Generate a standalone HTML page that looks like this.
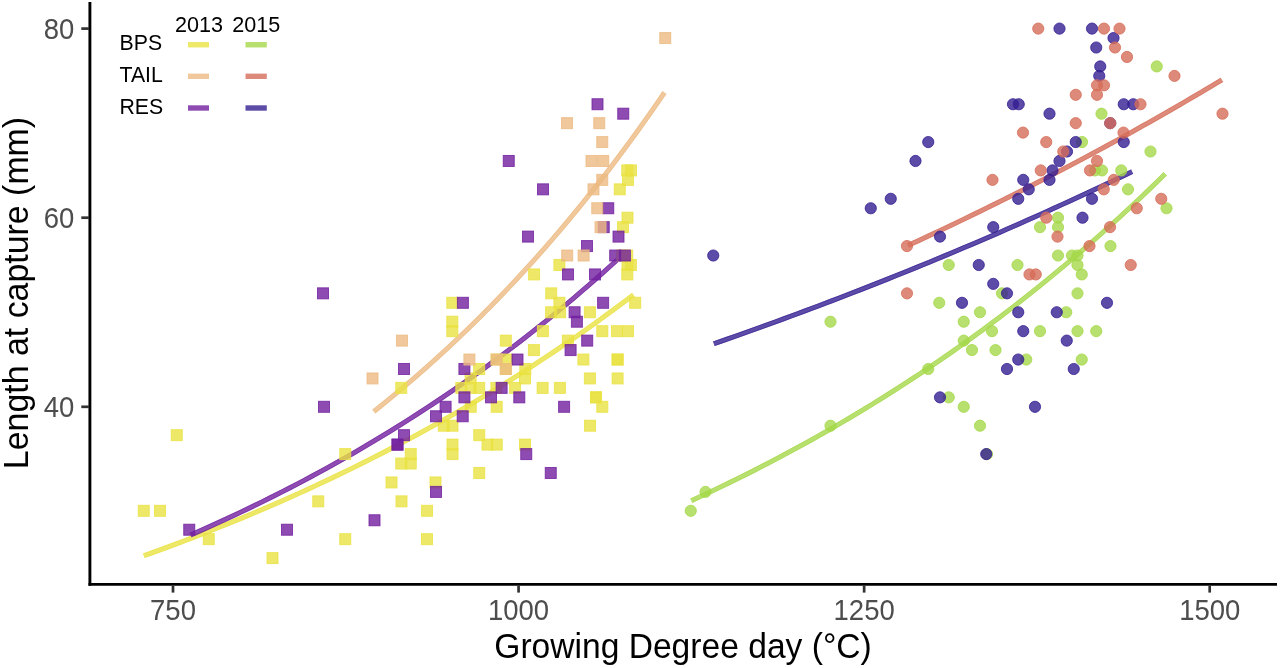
<!DOCTYPE html>
<html><head><meta charset="utf-8"><style>
html,body{margin:0;padding:0;background:#fff;width:1280px;height:668px;overflow:hidden}
svg{display:block;font-family:"Liberation Sans",sans-serif;will-change:transform}
</style></head><body>
<svg width="1280" height="668" viewBox="0 0 1280 668">
<polyline points="143.75,555.75 151.91,552.83 160.07,549.87 168.24,546.87 176.40,543.84 184.56,540.76 192.72,537.65 200.89,534.49 209.05,531.30 217.21,528.07 225.37,524.79 233.54,521.48 241.70,518.12 249.86,514.71 258.02,511.27 266.19,507.78 274.35,504.25 282.51,500.67 290.67,497.04 298.84,493.37 307.00,489.65 315.16,485.89 323.33,482.08 331.49,478.22 339.65,474.30 347.81,470.34 355.97,466.33 364.14,462.27 372.30,458.16 380.46,453.99 388.62,449.77 396.79,445.50 404.95,441.17 413.11,436.79 421.28,432.35 429.44,427.85 437.60,423.30 445.76,418.69 453.93,414.02 462.09,409.29 470.25,404.50 478.41,399.65 486.57,394.74 494.74,389.77 502.90,384.73 511.06,379.62 519.23,374.46 527.39,369.22 535.55,363.92 543.71,358.56 551.88,353.12 560.04,347.62 568.20,342.04 576.36,336.39 584.53,330.67 592.69,324.88 600.85,319.02 609.01,313.08 617.17,307.06 625.34,300.97 633.50,294.80" fill="none" stroke="#EAE242" stroke-opacity="0.8" stroke-linecap="butt" stroke-linejoin="round" stroke-width="4.9"/><polyline points="144.41,557.59 152.57,554.66 160.74,551.70 168.91,548.70 177.08,545.66 185.25,542.58 193.42,539.47 201.59,536.31 209.76,533.12 217.93,529.88 226.11,526.60 234.28,523.28 242.45,519.92 250.62,516.51 258.79,513.06 266.96,509.57 275.13,506.03 283.30,502.45 291.47,498.82 299.64,495.15 307.81,491.43 315.98,487.66 324.15,483.84 332.33,479.98 340.50,476.06 348.67,472.10 356.84,468.08 365.01,464.01 373.18,459.90 381.35,455.73 389.52,451.50 397.70,447.22 405.87,442.89 414.04,438.50 422.21,434.06 430.38,429.56 438.55,425.00 446.73,420.39 454.90,415.71 463.07,410.98 471.24,406.18 479.41,401.33 487.59,396.41 495.76,391.43 503.93,386.38 512.10,381.28 520.27,376.10 528.44,370.86 536.62,365.56 544.79,360.18 552.96,354.74 561.13,349.23 569.30,343.65 577.48,337.99 585.65,332.27 593.82,326.47 601.99,320.60 610.16,314.65 618.34,308.63 626.51,302.53 634.68,296.36" fill="none" stroke="#EAE242" stroke-opacity="0.5" stroke-linecap="butt" stroke-linejoin="round" stroke-width="1.0"/><polyline points="143.09,553.91 151.25,550.99 159.41,548.04 167.56,545.04 175.72,542.01 183.87,538.94 192.03,535.83 200.18,532.68 208.34,529.49 216.49,526.26 224.64,522.98 232.80,519.67 240.95,516.31 249.11,512.92 257.26,509.47 265.42,505.99 273.57,502.46 281.73,498.88 289.88,495.26 298.03,491.60 306.19,487.88 314.34,484.12 322.50,480.31 330.65,476.45 338.80,472.55 346.96,468.59 355.11,464.59 363.26,460.53 371.42,456.42 379.57,452.26 387.73,448.04 395.88,443.77 404.03,439.45 412.19,435.07 420.34,430.64 428.49,426.15 436.65,421.60 444.80,416.99 452.95,412.33 461.11,407.61 469.26,402.82 477.41,397.98 485.56,393.07 493.72,388.10 501.87,383.07 510.02,377.97 518.18,372.81 526.33,367.59 534.48,362.29 542.64,356.93 550.79,351.50 558.94,346.00 567.10,340.43 575.25,334.79 583.40,329.08 591.55,323.30 599.71,317.44 607.86,311.50 616.01,305.50 624.17,299.41 632.32,293.24" fill="none" stroke="#EAE242" stroke-opacity="0.5" stroke-linecap="butt" stroke-linejoin="round" stroke-width="1.0"/>
<polyline points="373.70,411.60 378.55,407.74 383.39,403.83 388.24,399.89 393.09,395.90 397.93,391.88 402.78,387.81 407.63,383.70 412.47,379.55 417.32,375.35 422.17,371.11 427.01,366.83 431.86,362.50 436.71,358.13 441.55,353.71 446.40,349.25 451.25,344.74 456.09,340.19 460.94,335.58 465.79,330.93 470.63,326.24 475.48,321.49 480.33,316.69 485.17,311.85 490.02,306.95 494.87,302.00 499.71,297.01 504.56,291.96 509.41,286.86 514.25,281.70 519.10,276.49 523.95,271.23 528.79,265.91 533.64,260.54 538.49,255.12 543.33,249.63 548.18,244.09 553.03,238.50 557.87,232.84 562.72,227.13 567.57,221.36 572.41,215.52 577.26,209.63 582.11,203.68 586.95,197.66 591.80,191.59 596.65,185.44 601.49,179.24 606.34,172.97 611.19,166.64 616.03,160.24 620.88,153.78 625.73,147.25 630.57,140.65 635.42,133.98 640.27,127.24 645.11,120.44 649.96,113.56 654.81,106.61 659.65,99.59 664.50,92.50" fill="none" stroke="#ECBA82" stroke-opacity="0.8" stroke-linecap="butt" stroke-linejoin="round" stroke-width="4.9"/><polyline points="374.92,413.12 379.77,409.26 384.62,405.35 389.47,401.40 394.33,397.41 399.18,393.37 404.04,389.30 408.89,385.18 413.75,381.02 418.60,376.82 423.45,372.58 428.31,368.29 433.16,363.95 438.02,359.58 442.87,355.15 447.72,350.68 452.58,346.17 457.43,341.60 462.29,337.00 467.14,332.34 471.99,327.63 476.85,322.88 481.70,318.08 486.56,313.22 491.41,308.32 496.26,303.37 501.12,298.36 505.97,293.30 510.82,288.19 515.68,283.03 520.53,277.82 525.38,272.55 530.24,267.22 535.09,261.85 539.94,256.41 544.80,250.92 549.65,245.37 554.50,239.77 559.36,234.11 564.21,228.39 569.06,222.61 573.92,216.77 578.77,210.87 583.62,204.91 588.47,198.88 593.33,192.80 598.18,186.65 603.03,180.44 607.89,174.16 612.74,167.82 617.59,161.42 622.44,154.94 627.30,148.40 632.15,141.80 637.00,135.12 641.85,128.38 646.70,121.56 651.56,114.68 656.41,107.72 661.26,100.70 666.11,93.60" fill="none" stroke="#ECBA82" stroke-opacity="0.5" stroke-linecap="butt" stroke-linejoin="round" stroke-width="1.0"/><polyline points="372.48,410.08 377.33,406.21 382.17,402.32 387.01,398.38 391.84,394.40 396.68,390.38 401.52,386.32 406.36,382.22 411.20,378.07 416.04,373.88 420.88,369.65 425.72,365.37 430.56,361.05 435.40,356.69 440.24,352.28 445.08,347.82 449.91,343.32 454.75,338.77 459.59,334.17 464.43,329.53 469.27,324.84 474.11,320.10 478.95,315.31 483.79,310.47 488.63,305.58 493.47,300.64 498.31,295.65 503.15,290.61 507.99,285.52 512.83,280.37 517.67,275.17 522.51,269.91 527.35,264.60 532.19,259.24 537.03,253.82 541.87,248.35 546.71,242.81 551.55,237.22 556.39,231.58 561.23,225.87 566.07,220.11 570.91,214.28 575.75,208.40 580.59,202.45 585.43,196.44 590.27,190.37 595.11,184.24 599.95,178.04 604.79,171.78 609.64,165.46 614.48,159.07 619.32,152.61 624.16,146.09 629.00,139.50 633.84,132.84 638.68,126.11 643.52,119.31 648.36,112.44 653.20,105.50 658.05,98.49 662.89,91.40" fill="none" stroke="#ECBA82" stroke-opacity="0.5" stroke-linecap="butt" stroke-linejoin="round" stroke-width="1.0"/>
<polyline points="190.50,535.00 197.61,531.89 204.72,528.74 211.83,525.55 218.93,522.32 226.04,519.06 233.15,515.75 240.26,512.40 247.37,509.00 254.48,505.57 261.58,502.09 268.69,498.57 275.80,495.01 282.91,491.40 290.02,487.75 297.12,484.05 304.23,480.31 311.34,476.51 318.45,472.68 325.56,468.79 332.67,464.86 339.77,460.87 346.88,456.84 353.99,452.76 361.10,448.62 368.21,444.44 375.32,440.20 382.42,435.91 389.53,431.57 396.64,427.17 403.75,422.72 410.86,418.21 417.97,413.64 425.08,409.02 432.18,404.35 439.29,399.61 446.40,394.81 453.51,389.96 460.62,385.04 467.73,380.07 474.83,375.03 481.94,369.93 489.05,364.76 496.16,359.54 503.27,354.24 510.38,348.88 517.48,343.46 524.59,337.96 531.70,332.40 538.81,326.77 545.92,321.07 553.02,315.29 560.13,309.45 567.24,303.53 574.35,297.54 581.46,291.48 588.57,285.34 595.68,279.12 602.78,272.82 609.89,266.45 617.00,260.00" fill="none" stroke="#721F9F" stroke-opacity="0.8" stroke-linecap="butt" stroke-linejoin="round" stroke-width="4.9"/><polyline points="191.28,536.79 198.39,533.67 205.51,530.52 212.63,527.33 219.74,524.10 226.86,520.82 233.98,517.51 241.09,514.16 248.21,510.76 255.33,507.32 262.44,503.84 269.56,500.32 276.68,496.75 283.80,493.14 290.91,489.48 298.03,485.78 305.15,482.03 312.26,478.23 319.38,474.39 326.50,470.50 333.62,466.56 340.73,462.57 347.85,458.53 354.97,454.44 362.08,450.30 369.20,446.11 376.32,441.87 383.44,437.58 390.55,433.23 397.67,428.82 404.79,424.37 411.91,419.85 419.02,415.28 426.14,410.66 433.26,405.97 440.38,401.23 447.50,396.43 454.61,391.57 461.73,386.64 468.85,381.66 475.97,376.62 483.08,371.51 490.20,366.34 497.32,361.10 504.44,355.80 511.55,350.44 518.67,345.00 525.79,339.50 532.91,333.93 540.02,328.29 547.14,322.58 554.26,316.80 561.38,310.95 568.49,305.03 575.61,299.03 582.73,292.96 589.85,286.81 596.96,280.58 604.08,274.28 611.20,267.90 618.31,261.44" fill="none" stroke="#721F9F" stroke-opacity="0.5" stroke-linecap="butt" stroke-linejoin="round" stroke-width="1.0"/><polyline points="189.72,533.21 196.82,530.10 203.92,526.96 211.02,523.77 218.12,520.55 225.22,517.29 232.32,513.98 239.42,510.63 246.52,507.25 253.62,503.82 260.72,500.34 267.82,496.83 274.92,493.27 282.02,489.66 289.12,486.02 296.22,482.32 303.32,478.58 310.42,474.80 317.52,470.96 324.62,467.08 331.72,463.15 338.82,459.17 345.92,455.15 353.02,451.07 360.12,446.94 367.21,442.76 374.31,438.53 381.41,434.24 388.51,429.90 395.61,425.51 402.71,421.07 409.81,416.56 416.91,412.01 424.01,407.39 431.11,402.72 438.21,397.99 445.30,393.20 452.40,388.35 459.50,383.44 466.60,378.47 473.70,373.44 480.80,368.35 487.90,363.19 495.00,357.97 502.10,352.68 509.20,347.33 516.30,341.91 523.39,336.42 530.49,330.87 537.59,325.24 544.69,319.55 551.79,313.78 558.89,307.95 565.99,302.04 573.09,296.05 580.19,290.00 587.29,283.86 594.39,277.66 601.49,271.37 608.59,265.00 615.69,258.56" fill="none" stroke="#721F9F" stroke-opacity="0.5" stroke-linecap="butt" stroke-linejoin="round" stroke-width="1.0"/>
<polyline points="691.25,500.75 699.15,497.10 707.05,493.40 714.95,489.66 722.85,485.86 730.75,482.02 738.66,478.13 746.56,474.19 754.46,470.20 762.36,466.15 770.26,462.06 778.16,457.91 786.06,453.71 793.96,449.45 801.86,445.14 809.76,440.78 817.66,436.36 825.56,431.88 833.47,427.34 841.37,422.75 849.27,418.10 857.17,413.38 865.07,408.61 872.97,403.78 880.87,398.88 888.77,393.92 896.67,388.90 904.57,383.81 912.47,378.66 920.37,373.44 928.27,368.15 936.18,362.80 944.08,357.38 951.98,351.88 959.88,346.32 967.78,340.69 975.68,334.98 983.58,329.20 991.48,323.34 999.38,317.42 1007.28,311.41 1015.18,305.33 1023.09,299.17 1030.99,292.93 1038.89,286.61 1046.79,280.20 1054.69,273.72 1062.59,267.15 1070.49,260.50 1078.39,253.77 1086.29,246.94 1094.19,240.03 1102.09,233.03 1109.99,225.94 1117.89,218.76 1125.80,211.49 1133.70,204.12 1141.60,196.66 1149.50,189.11 1157.40,181.45 1165.30,173.70" fill="none" stroke="#A5D84A" stroke-opacity="0.8" stroke-linecap="butt" stroke-linejoin="round" stroke-width="4.9"/><polyline points="692.07,502.52 699.97,498.87 707.88,495.17 715.79,491.42 723.70,487.62 731.61,483.77 739.52,479.88 747.43,475.93 755.34,471.93 763.25,467.89 771.16,463.79 779.07,459.63 786.98,455.43 794.89,451.17 802.80,446.85 810.71,442.48 818.62,438.06 826.53,433.57 834.44,429.03 842.35,424.43 850.26,419.77 858.17,415.06 866.08,410.28 873.99,405.44 881.90,400.53 889.81,395.57 897.72,390.54 905.63,385.45 913.54,380.29 921.45,375.06 929.36,369.77 937.27,364.41 945.18,358.98 953.10,353.48 961.01,347.91 968.92,342.27 976.83,336.56 984.74,330.77 992.65,324.91 1000.56,318.97 1008.47,312.96 1016.38,306.87 1024.29,300.70 1032.20,294.45 1040.11,288.12 1048.02,281.72 1055.93,275.22 1063.84,268.65 1071.75,261.99 1079.66,255.25 1087.57,248.41 1095.48,241.50 1103.39,234.49 1111.30,227.39 1119.21,220.20 1127.12,212.92 1135.03,205.55 1142.94,198.08 1150.85,190.51 1158.76,182.85 1166.67,175.09" fill="none" stroke="#A5D84A" stroke-opacity="0.5" stroke-linecap="butt" stroke-linejoin="round" stroke-width="1.0"/><polyline points="690.43,498.98 698.33,495.33 706.22,491.64 714.11,487.90 722.00,484.11 729.90,480.27 737.79,476.38 745.68,472.44 753.57,468.46 761.46,464.42 769.36,460.33 777.25,456.18 785.14,451.99 793.03,447.74 800.92,443.43 808.81,439.07 816.71,434.66 824.60,430.18 832.49,425.65 840.38,421.07 848.27,416.42 856.16,411.71 864.06,406.94 871.95,402.12 879.84,397.23 887.73,392.27 895.62,387.26 903.51,382.17 911.40,377.03 919.29,371.81 927.19,366.53 935.08,361.19 942.97,355.77 950.86,350.29 958.75,344.73 966.64,339.10 974.53,333.40 982.42,327.63 990.32,321.78 998.21,315.86 1006.10,309.86 1013.99,303.79 1021.88,297.63 1029.77,291.40 1037.66,285.09 1045.56,278.69 1053.45,272.22 1061.34,265.66 1069.23,259.01 1077.12,252.29 1085.01,245.47 1092.90,238.57 1100.80,231.58 1108.69,224.50 1116.58,217.32 1124.47,210.06 1132.36,202.70 1140.25,195.25 1148.15,187.70 1156.04,180.06 1163.93,172.31" fill="none" stroke="#A5D84A" stroke-opacity="0.5" stroke-linecap="butt" stroke-linejoin="round" stroke-width="1.0"/>
<polyline points="908.00,245.50 913.23,243.09 918.47,240.66 923.70,238.23 928.93,235.78 934.17,233.32 939.40,230.85 944.63,228.38 949.87,225.89 955.10,223.38 960.33,220.87 965.57,218.35 970.80,215.81 976.03,213.27 981.27,210.71 986.50,208.14 991.73,205.56 996.97,202.97 1002.20,200.36 1007.43,197.75 1012.67,195.12 1017.90,192.48 1023.13,189.83 1028.37,187.17 1033.60,184.49 1038.83,181.80 1044.07,179.11 1049.30,176.39 1054.53,173.67 1059.77,170.94 1065.00,168.19 1070.23,165.43 1075.47,162.66 1080.70,159.87 1085.93,157.08 1091.17,154.27 1096.40,151.45 1101.63,148.61 1106.87,145.76 1112.10,142.90 1117.33,140.03 1122.57,137.15 1127.80,134.25 1133.03,131.34 1138.27,128.41 1143.50,125.47 1148.73,122.52 1153.97,119.56 1159.20,116.58 1164.43,113.59 1169.67,110.59 1174.90,107.57 1180.13,104.54 1185.37,101.50 1190.60,98.44 1195.83,95.37 1201.07,92.28 1206.30,89.18 1211.53,86.07 1216.77,82.94 1222.00,79.80" fill="none" stroke="#D66D59" stroke-opacity="0.8" stroke-linecap="butt" stroke-linejoin="round" stroke-width="4.9"/><polyline points="908.82,247.27 914.05,244.86 919.29,242.43 924.52,239.99 929.76,237.55 935.00,235.09 940.23,232.62 945.47,230.14 950.71,227.65 955.94,225.14 961.18,222.63 966.42,220.10 971.65,217.57 976.89,215.02 982.12,212.46 987.36,209.89 992.60,207.31 997.83,204.71 1003.07,202.11 1008.31,199.49 1013.54,196.86 1018.78,194.22 1024.02,191.57 1029.25,188.90 1034.49,186.23 1039.73,183.54 1044.96,180.84 1050.20,178.13 1055.43,175.40 1060.67,172.66 1065.91,169.92 1071.14,167.15 1076.38,164.38 1081.62,161.59 1086.85,158.80 1092.09,155.98 1097.33,153.16 1102.56,150.32 1107.80,147.48 1113.04,144.61 1118.27,141.74 1123.51,138.85 1128.75,135.95 1133.98,133.04 1139.22,130.11 1144.46,127.17 1149.69,124.22 1154.93,121.26 1160.17,118.28 1165.40,115.28 1170.64,112.28 1175.88,109.26 1181.11,106.23 1186.35,103.18 1191.59,100.12 1196.82,97.05 1202.06,93.96 1207.30,90.86 1212.53,87.74 1217.77,84.61 1223.00,81.47" fill="none" stroke="#D66D59" stroke-opacity="0.5" stroke-linecap="butt" stroke-linejoin="round" stroke-width="1.0"/><polyline points="907.18,243.73 912.42,241.32 917.65,238.89 922.88,236.46 928.11,234.01 933.34,231.56 938.57,229.09 943.80,226.61 949.03,224.13 954.26,221.63 959.49,219.11 964.72,216.59 969.95,214.06 975.18,211.51 980.41,208.96 985.64,206.39 990.87,203.81 996.10,201.22 1001.33,198.62 1006.56,196.00 1011.79,193.38 1017.02,190.74 1022.25,188.09 1027.48,185.43 1032.71,182.76 1037.94,180.07 1043.17,177.37 1048.40,174.66 1053.63,171.94 1058.86,169.21 1064.09,166.46 1069.32,163.71 1074.55,160.94 1079.78,158.15 1085.01,155.36 1090.24,152.55 1095.47,149.73 1100.70,146.90 1105.93,144.05 1111.16,141.19 1116.39,138.32 1121.62,135.44 1126.85,132.54 1132.08,129.63 1137.31,126.71 1142.54,123.77 1147.77,120.83 1153.00,117.86 1158.23,114.89 1163.46,111.90 1168.69,108.90 1173.92,105.88 1179.15,102.85 1184.38,99.81 1189.61,96.75 1194.84,93.68 1200.07,90.60 1205.30,87.50 1210.53,84.39 1215.76,81.27 1221.00,78.13" fill="none" stroke="#D66D59" stroke-opacity="0.5" stroke-linecap="butt" stroke-linejoin="round" stroke-width="1.0"/>
<polyline points="713.75,343.80 720.72,341.37 727.70,338.93 734.67,336.47 741.65,334.00 748.62,331.52 755.59,329.02 762.57,326.51 769.54,323.98 776.52,321.44 783.49,318.89 790.47,316.32 797.44,313.74 804.41,311.15 811.39,308.54 818.36,305.92 825.34,303.28 832.31,300.62 839.28,297.96 846.26,295.27 853.23,292.58 860.21,289.87 867.18,287.14 874.16,284.40 881.13,281.64 888.10,278.87 895.08,276.08 902.05,273.28 909.03,270.46 916.00,267.63 922.98,264.78 929.95,261.91 936.92,259.03 943.90,256.13 950.87,253.22 957.85,250.29 964.82,247.35 971.79,244.39 978.77,241.41 985.74,238.42 992.72,235.41 999.69,232.38 1006.66,229.34 1013.64,226.28 1020.61,223.20 1027.59,220.11 1034.56,217.00 1041.54,213.87 1048.51,210.72 1055.48,207.56 1062.46,204.38 1069.43,201.18 1076.41,197.97 1083.38,194.73 1090.36,191.48 1097.33,188.21 1104.30,184.93 1111.28,181.62 1118.25,178.30 1125.23,174.96 1132.20,171.60" fill="none" stroke="#351E92" stroke-opacity="0.8" stroke-linecap="butt" stroke-linejoin="round" stroke-width="4.9"/><polyline points="714.39,345.64 721.37,343.21 728.34,340.77 735.32,338.31 742.30,335.84 749.28,333.35 756.25,330.85 763.23,328.34 770.21,325.82 777.19,323.28 784.16,320.72 791.14,318.15 798.12,315.57 805.10,312.98 812.07,310.36 819.05,307.74 826.03,305.10 833.01,302.45 839.98,299.78 846.96,297.09 853.94,294.40 860.92,291.68 867.89,288.95 874.87,286.21 881.85,283.45 888.83,280.68 895.80,277.89 902.78,275.09 909.76,272.27 916.74,269.43 923.71,266.58 930.69,263.72 937.67,260.83 944.65,257.93 951.62,255.02 958.60,252.09 965.58,249.14 972.56,246.18 979.54,243.20 986.51,240.21 993.49,237.20 1000.47,234.17 1007.45,231.12 1014.42,228.06 1021.40,224.98 1028.38,221.89 1035.36,218.78 1042.34,215.65 1049.31,212.50 1056.29,209.33 1063.27,206.15 1070.25,202.95 1077.22,199.74 1084.20,196.50 1091.18,193.25 1098.16,189.98 1105.14,186.69 1112.11,183.38 1119.09,180.06 1126.07,176.72 1133.05,173.36" fill="none" stroke="#351E92" stroke-opacity="0.5" stroke-linecap="butt" stroke-linejoin="round" stroke-width="1.0"/><polyline points="713.11,341.96 720.08,339.53 727.05,337.09 734.02,334.63 740.99,332.16 747.97,329.68 754.94,327.18 761.91,324.67 768.88,322.15 775.85,319.61 782.82,317.06 789.79,314.50 796.76,311.92 803.73,309.32 810.70,306.71 817.67,304.09 824.65,301.45 831.62,298.80 838.59,296.14 845.56,293.45 852.53,290.76 859.50,288.05 866.47,285.32 873.44,282.58 880.41,279.83 887.38,277.06 894.35,274.27 901.32,271.47 908.29,268.65 915.27,265.82 922.24,262.97 929.21,260.11 936.18,257.23 943.15,254.33 950.12,251.42 957.09,248.50 964.06,245.55 971.03,242.59 978.00,239.62 984.97,236.63 991.94,233.62 998.91,230.59 1005.88,227.55 1012.85,224.49 1019.82,221.42 1026.79,218.32 1033.77,215.22 1040.74,212.09 1047.71,208.95 1054.68,205.78 1061.65,202.61 1068.62,199.41 1075.59,196.20 1082.56,192.97 1089.53,189.72 1096.50,186.45 1103.47,183.17 1110.44,179.86 1117.41,176.54 1124.38,173.20 1131.35,169.84" fill="none" stroke="#351E92" stroke-opacity="0.5" stroke-linecap="butt" stroke-linejoin="round" stroke-width="1.0"/>
<g fill="#EAE242" fill-opacity="0.8" stroke="#EAE242" stroke-opacity="0.8" stroke-width="1.0"><rect x="171.25" y="429.67" width="11.00" height="11.00"/><rect x="138.25" y="505.31" width="11.00" height="11.00"/><rect x="154.50" y="505.31" width="11.00" height="11.00"/><rect x="203.25" y="533.67" width="11.00" height="11.00"/><rect x="267.00" y="552.58" width="11.00" height="11.00"/><rect x="312.75" y="495.85" width="11.00" height="11.00"/><rect x="339.75" y="448.58" width="11.00" height="11.00"/><rect x="339.75" y="533.67" width="11.00" height="11.00"/><rect x="386.00" y="476.94" width="11.00" height="11.00"/><rect x="396.00" y="495.85" width="11.00" height="11.00"/><rect x="395.75" y="458.03" width="11.00" height="11.00"/><rect x="405.25" y="448.58" width="11.00" height="11.00"/><rect x="405.25" y="458.03" width="11.00" height="11.00"/><rect x="395.75" y="382.39" width="11.00" height="11.00"/><rect x="421.50" y="505.31" width="11.00" height="11.00"/><rect x="421.50" y="533.67" width="11.00" height="11.00"/><rect x="430.00" y="476.94" width="11.00" height="11.00"/><rect x="473.75" y="467.49" width="11.00" height="11.00"/><rect x="447.00" y="439.12" width="11.00" height="11.00"/><rect x="447.00" y="448.58" width="11.00" height="11.00"/><rect x="438.25" y="420.21" width="11.00" height="11.00"/><rect x="447.00" y="420.21" width="11.00" height="11.00"/><rect x="473.75" y="429.67" width="11.00" height="11.00"/><rect x="482.00" y="439.12" width="11.00" height="11.00"/><rect x="491.25" y="439.12" width="11.00" height="11.00"/><rect x="519.50" y="439.12" width="11.00" height="11.00"/><rect x="584.50" y="420.21" width="11.00" height="11.00"/><rect x="446.80" y="297.30" width="11.00" height="11.00"/><rect x="446.80" y="316.21" width="11.00" height="11.00"/><rect x="446.80" y="325.66" width="11.00" height="11.00"/><rect x="455.80" y="382.39" width="11.00" height="11.00"/><rect x="465.25" y="382.39" width="11.00" height="11.00"/><rect x="473.70" y="382.39" width="11.00" height="11.00"/><rect x="490.90" y="382.39" width="11.00" height="11.00"/><rect x="509.60" y="382.39" width="11.00" height="11.00"/><rect x="537.10" y="382.39" width="11.00" height="11.00"/><rect x="554.40" y="382.39" width="11.00" height="11.00"/><rect x="465.10" y="372.94" width="11.00" height="11.00"/><rect x="519.50" y="372.94" width="11.00" height="11.00"/><rect x="473.70" y="363.48" width="11.00" height="11.00"/><rect x="519.80" y="363.48" width="11.00" height="11.00"/><rect x="500.30" y="363.48" width="11.00" height="11.00"/><rect x="491.10" y="354.03" width="11.00" height="11.00"/><rect x="501.30" y="354.03" width="11.00" height="11.00"/><rect x="500.30" y="335.12" width="11.00" height="11.00"/><rect x="528.40" y="344.57" width="11.00" height="11.00"/><rect x="465.25" y="401.30" width="11.00" height="11.00"/><rect x="491.20" y="401.30" width="11.00" height="11.00"/><rect x="528.60" y="268.93" width="11.00" height="11.00"/><rect x="553.90" y="259.48" width="11.00" height="11.00"/><rect x="545.75" y="287.84" width="11.00" height="11.00"/><rect x="553.90" y="297.30" width="11.00" height="11.00"/><rect x="545.60" y="306.75" width="11.00" height="11.00"/><rect x="554.60" y="306.75" width="11.00" height="11.00"/><rect x="584.40" y="306.75" width="11.00" height="11.00"/><rect x="537.40" y="325.66" width="11.00" height="11.00"/><rect x="596.80" y="325.66" width="11.00" height="11.00"/><rect x="611.50" y="325.66" width="11.00" height="11.00"/><rect x="622.50" y="325.66" width="11.00" height="11.00"/><rect x="562.40" y="335.12" width="11.00" height="11.00"/><rect x="577.90" y="354.03" width="11.00" height="11.00"/><rect x="612.10" y="354.03" width="11.00" height="11.00"/><rect x="612.10" y="354.03" width="11.00" height="11.00"/><rect x="584.40" y="372.94" width="11.00" height="11.00"/><rect x="612.10" y="372.94" width="11.00" height="11.00"/><rect x="590.50" y="391.85" width="11.00" height="11.00"/><rect x="590.50" y="391.85" width="11.00" height="11.00"/><rect x="596.80" y="401.30" width="11.00" height="11.00"/><rect x="616.40" y="250.02" width="11.00" height="11.00"/><rect x="621.70" y="250.02" width="11.00" height="11.00"/><rect x="622.00" y="259.48" width="11.00" height="11.00"/><rect x="625.40" y="259.48" width="11.00" height="11.00"/><rect x="621.80" y="268.93" width="11.00" height="11.00"/><rect x="629.70" y="297.30" width="11.00" height="11.00"/><rect x="621.75" y="164.92" width="11.00" height="11.00"/><rect x="625.50" y="164.92" width="11.00" height="11.00"/><rect x="622.50" y="174.38" width="11.00" height="11.00"/><rect x="614.25" y="183.84" width="11.00" height="11.00"/><rect x="622.00" y="212.20" width="11.00" height="11.00"/><rect x="617.50" y="221.66" width="11.00" height="11.00"/></g>
<g fill="#721F9F" fill-opacity="0.8" stroke="#721F9F" stroke-opacity="0.8" stroke-width="1.0"><rect x="183.75" y="524.22" width="11.00" height="11.00"/><rect x="281.50" y="524.22" width="11.00" height="11.00"/><rect x="369.00" y="514.76" width="11.00" height="11.00"/><rect x="392.00" y="439.12" width="11.00" height="11.00"/><rect x="392.00" y="439.12" width="11.00" height="11.00"/><rect x="398.50" y="429.67" width="11.00" height="11.00"/><rect x="430.50" y="486.40" width="11.00" height="11.00"/><rect x="520.75" y="448.58" width="11.00" height="11.00"/><rect x="545.25" y="467.49" width="11.00" height="11.00"/><rect x="318.50" y="401.30" width="11.00" height="11.00"/><rect x="398.50" y="363.48" width="11.00" height="11.00"/><rect x="317.50" y="287.84" width="11.00" height="11.00"/><rect x="458.90" y="363.48" width="11.00" height="11.00"/><rect x="440.10" y="401.30" width="11.00" height="11.00"/><rect x="430.50" y="410.76" width="11.00" height="11.00"/><rect x="457.20" y="410.76" width="11.00" height="11.00"/><rect x="458.90" y="391.85" width="11.00" height="11.00"/><rect x="485.50" y="391.85" width="11.00" height="11.00"/><rect x="513.80" y="391.85" width="11.00" height="11.00"/><rect x="496.10" y="382.39" width="11.00" height="11.00"/><rect x="512.00" y="354.03" width="11.00" height="11.00"/><rect x="558.60" y="401.30" width="11.00" height="11.00"/><rect x="565.10" y="344.57" width="11.00" height="11.00"/><rect x="592.00" y="98.74" width="11.00" height="11.00"/><rect x="617.75" y="108.19" width="11.00" height="11.00"/><rect x="503.25" y="155.47" width="11.00" height="11.00"/><rect x="537.50" y="183.84" width="11.00" height="11.00"/><rect x="602.75" y="202.75" width="11.00" height="11.00"/><rect x="598.25" y="221.66" width="11.00" height="11.00"/><rect x="613.00" y="231.11" width="11.00" height="11.00"/><rect x="522.50" y="231.11" width="11.00" height="11.00"/><rect x="581.50" y="240.56" width="11.00" height="11.00"/><rect x="609.70" y="250.02" width="11.00" height="11.00"/><rect x="619.40" y="250.02" width="11.00" height="11.00"/><rect x="562.50" y="268.93" width="11.00" height="11.00"/><rect x="589.50" y="268.93" width="11.00" height="11.00"/><rect x="597.60" y="297.30" width="11.00" height="11.00"/><rect x="569.10" y="306.75" width="11.00" height="11.00"/><rect x="571.40" y="316.21" width="11.00" height="11.00"/><rect x="581.70" y="335.12" width="11.00" height="11.00"/><rect x="457.40" y="297.30" width="11.00" height="11.00"/></g>
<g fill="#ECBA82" fill-opacity="0.8" stroke="#ECBA82" stroke-opacity="0.8" stroke-width="1.0"><rect x="367.00" y="372.94" width="11.00" height="11.00"/><rect x="396.50" y="335.12" width="11.00" height="11.00"/><rect x="463.90" y="354.03" width="11.00" height="11.00"/><rect x="491.10" y="354.03" width="11.00" height="11.00"/><rect x="500.30" y="363.48" width="11.00" height="11.00"/><rect x="561.50" y="117.65" width="11.00" height="11.00"/><rect x="593.75" y="117.65" width="11.00" height="11.00"/><rect x="596.75" y="136.56" width="11.00" height="11.00"/><rect x="586.00" y="155.47" width="11.00" height="11.00"/><rect x="597.75" y="155.47" width="11.00" height="11.00"/><rect x="596.75" y="174.38" width="11.00" height="11.00"/><rect x="588.00" y="183.84" width="11.00" height="11.00"/><rect x="591.75" y="202.75" width="11.00" height="11.00"/><rect x="595.00" y="221.66" width="11.00" height="11.00"/><rect x="561.70" y="250.02" width="11.00" height="11.00"/><rect x="578.10" y="250.02" width="11.00" height="11.00"/><rect x="659.75" y="32.55" width="11.00" height="11.00"/></g>
<g fill="#A5D84A" fill-opacity="0.8" stroke="#A5D84A" stroke-opacity="0.8" stroke-width="1.0"><circle cx="987.00" cy="454.08" r="5.60"/><circle cx="690.75" cy="510.81" r="5.60"/><circle cx="705.50" cy="491.90" r="5.60"/><circle cx="830.50" cy="425.71" r="5.60"/><circle cx="928.25" cy="368.98" r="5.60"/><circle cx="948.75" cy="397.35" r="5.60"/><circle cx="963.75" cy="406.80" r="5.60"/><circle cx="980.00" cy="425.71" r="5.60"/><circle cx="948.75" cy="264.98" r="5.60"/><circle cx="830.50" cy="321.71" r="5.60"/><circle cx="939.25" cy="302.80" r="5.60"/><circle cx="980.00" cy="312.25" r="5.60"/><circle cx="963.75" cy="321.71" r="5.60"/><circle cx="992.00" cy="331.16" r="5.60"/><circle cx="963.75" cy="340.62" r="5.60"/><circle cx="972.00" cy="350.07" r="5.60"/><circle cx="995.50" cy="350.07" r="5.60"/><circle cx="1166.50" cy="208.25" r="5.60"/><circle cx="1058.00" cy="217.70" r="5.60"/><circle cx="1040.00" cy="227.16" r="5.60"/><circle cx="1058.00" cy="227.16" r="5.60"/><circle cx="1110.50" cy="246.06" r="5.60"/><circle cx="1058.00" cy="255.52" r="5.60"/><circle cx="1072.00" cy="255.52" r="5.60"/><circle cx="1077.50" cy="255.52" r="5.60"/><circle cx="1077.50" cy="264.98" r="5.60"/><circle cx="1081.75" cy="274.43" r="5.60"/><circle cx="1017.50" cy="264.98" r="5.60"/><circle cx="1002.00" cy="293.34" r="5.60"/><circle cx="1077.50" cy="293.34" r="5.60"/><circle cx="1066.25" cy="312.25" r="5.60"/><circle cx="1040.00" cy="331.16" r="5.60"/><circle cx="1077.50" cy="331.16" r="5.60"/><circle cx="1096.25" cy="331.16" r="5.60"/><circle cx="1026.25" cy="359.53" r="5.60"/><circle cx="1081.75" cy="359.53" r="5.60"/><circle cx="1156.75" cy="66.42" r="5.60"/><circle cx="1101.50" cy="113.69" r="5.60"/><circle cx="1082.00" cy="142.06" r="5.60"/><circle cx="1150.50" cy="151.52" r="5.60"/><circle cx="1095.00" cy="170.42" r="5.60"/><circle cx="1102.00" cy="170.42" r="5.60"/><circle cx="1121.25" cy="170.42" r="5.60"/><circle cx="1128.00" cy="189.34" r="5.60"/></g>
<g fill="#351E92" fill-opacity="0.8" stroke="#351E92" stroke-opacity="0.8" stroke-width="1.0"><circle cx="713.25" cy="255.52" r="5.60"/><circle cx="870.75" cy="208.25" r="5.60"/><circle cx="890.75" cy="198.79" r="5.60"/><circle cx="940.00" cy="236.61" r="5.60"/><circle cx="993.25" cy="227.16" r="5.60"/><circle cx="978.75" cy="264.98" r="5.60"/><circle cx="993.25" cy="283.88" r="5.60"/><circle cx="962.00" cy="302.80" r="5.60"/><circle cx="940.00" cy="397.35" r="5.60"/><circle cx="986.25" cy="454.08" r="5.60"/><circle cx="1018.25" cy="198.79" r="5.60"/><circle cx="1092.00" cy="198.79" r="5.60"/><circle cx="1082.50" cy="217.70" r="5.60"/><circle cx="1007.00" cy="293.34" r="5.60"/><circle cx="1107.00" cy="302.80" r="5.60"/><circle cx="1018.25" cy="312.25" r="5.60"/><circle cx="1056.75" cy="312.25" r="5.60"/><circle cx="1023.25" cy="331.16" r="5.60"/><circle cx="1066.75" cy="340.62" r="5.60"/><circle cx="1018.25" cy="359.53" r="5.60"/><circle cx="1007.00" cy="368.98" r="5.60"/><circle cx="1073.75" cy="368.98" r="5.60"/><circle cx="1035.00" cy="406.80" r="5.60"/><circle cx="928.25" cy="142.06" r="5.60"/><circle cx="915.50" cy="160.97" r="5.60"/><circle cx="1059.50" cy="28.60" r="5.60"/><circle cx="1092.00" cy="28.60" r="5.60"/><circle cx="1113.50" cy="38.05" r="5.60"/><circle cx="1096.25" cy="47.51" r="5.60"/><circle cx="1100.25" cy="66.42" r="5.60"/><circle cx="1099.25" cy="75.88" r="5.60"/><circle cx="1013.00" cy="104.24" r="5.60"/><circle cx="1018.75" cy="104.24" r="5.60"/><circle cx="1123.75" cy="104.24" r="5.60"/><circle cx="1133.25" cy="104.24" r="5.60"/><circle cx="1049.50" cy="113.69" r="5.60"/><circle cx="1110.25" cy="123.15" r="5.60"/><circle cx="1075.75" cy="142.06" r="5.60"/><circle cx="1123.75" cy="142.06" r="5.60"/><circle cx="1067.00" cy="151.52" r="5.60"/><circle cx="1059.50" cy="160.97" r="5.60"/><circle cx="1052.50" cy="170.42" r="5.60"/><circle cx="1023.25" cy="179.88" r="5.60"/><circle cx="1049.50" cy="179.88" r="5.60"/><circle cx="1028.75" cy="189.34" r="5.60"/></g>
<g fill="#D66D59" fill-opacity="0.8" stroke="#D66D59" stroke-opacity="0.8" stroke-width="1.0"><circle cx="907.00" cy="246.06" r="5.60"/><circle cx="907.00" cy="293.34" r="5.60"/><circle cx="1136.75" cy="208.25" r="5.60"/><circle cx="1046.25" cy="217.70" r="5.60"/><circle cx="1110.00" cy="227.16" r="5.60"/><circle cx="1057.50" cy="236.61" r="5.60"/><circle cx="1089.50" cy="246.06" r="5.60"/><circle cx="1130.75" cy="264.98" r="5.60"/><circle cx="1029.50" cy="274.43" r="5.60"/><circle cx="1035.75" cy="274.43" r="5.60"/><circle cx="1161.25" cy="198.79" r="5.60"/><circle cx="1038.25" cy="28.60" r="5.60"/><circle cx="1104.00" cy="28.60" r="5.60"/><circle cx="1119.50" cy="28.60" r="5.60"/><circle cx="1115.00" cy="47.51" r="5.60"/><circle cx="1127.00" cy="56.97" r="5.60"/><circle cx="1174.50" cy="75.88" r="5.60"/><circle cx="1097.00" cy="85.33" r="5.60"/><circle cx="1104.00" cy="85.33" r="5.60"/><circle cx="1075.75" cy="94.78" r="5.60"/><circle cx="1097.00" cy="94.78" r="5.60"/><circle cx="1140.50" cy="104.24" r="5.60"/><circle cx="1222.50" cy="113.69" r="5.60"/><circle cx="1075.75" cy="123.15" r="5.60"/><circle cx="1110.25" cy="123.15" r="5.60"/><circle cx="1023.00" cy="132.60" r="5.60"/><circle cx="1123.50" cy="132.60" r="5.60"/><circle cx="1046.25" cy="142.06" r="5.60"/><circle cx="1063.25" cy="151.52" r="5.60"/><circle cx="1097.00" cy="160.97" r="5.60"/><circle cx="1040.75" cy="170.42" r="5.60"/><circle cx="1090.00" cy="170.42" r="5.60"/><circle cx="992.50" cy="179.88" r="5.60"/><circle cx="1113.75" cy="179.88" r="5.60"/><circle cx="1103.75" cy="189.34" r="5.60"/></g>
<line x1="89.9" y1="2" x2="89.9" y2="585.8" stroke="#000" stroke-width="2.9"/>
<line x1="88.5" y1="584.4" x2="1277" y2="584.4" stroke="#000" stroke-width="2.9"/>
<line x1="81.3" y1="28.60" x2="89" y2="28.60" stroke="#333333" stroke-width="2.7"/>
<line x1="81.3" y1="217.70" x2="89" y2="217.70" stroke="#333333" stroke-width="2.7"/>
<line x1="81.3" y1="406.80" x2="89" y2="406.80" stroke="#333333" stroke-width="2.7"/>
<line x1="173.00" y1="585.5" x2="173.00" y2="592.6" stroke="#333333" stroke-width="2.7"/>
<line x1="518.57" y1="585.5" x2="518.57" y2="592.6" stroke="#333333" stroke-width="2.7"/>
<line x1="864.14" y1="585.5" x2="864.14" y2="592.6" stroke="#333333" stroke-width="2.7"/>
<line x1="1209.70" y1="585.5" x2="1209.70" y2="592.6" stroke="#333333" stroke-width="2.7"/>
<text transform="translate(74.30,38.50) scale(1,1.045)" text-anchor="end" font-size="27.5" fill="#4D4D4D">80</text>
<text transform="translate(74.30,227.60) scale(1,1.045)" text-anchor="end" font-size="27.5" fill="#4D4D4D">60</text>
<text transform="translate(74.30,416.70) scale(1,1.045)" text-anchor="end" font-size="27.5" fill="#4D4D4D">40</text>
<text transform="translate(173.00,619.80) scale(1,1.045)" text-anchor="middle" font-size="27.5" fill="#4D4D4D">750</text>
<text transform="translate(518.57,619.80) scale(1,1.045)" text-anchor="middle" font-size="27.5" fill="#4D4D4D">1000</text>
<text transform="translate(864.14,619.80) scale(1,1.045)" text-anchor="middle" font-size="27.5" fill="#4D4D4D">1250</text>
<text transform="translate(1209.70,619.80) scale(1,1.045)" text-anchor="middle" font-size="27.5" fill="#4D4D4D">1500</text>
<text transform="translate(683.00,658.00) scale(1,1.045)" text-anchor="middle" font-size="33.6" fill="#000">Growing Degree day (°C)</text>
<text transform="translate(27.90,293.00) rotate(-90) scale(1,1.04)" text-anchor="middle" font-size="33.9" fill="#000">Length at capture (mm)</text>
<text transform="translate(175.00,32.00) scale(1,1.045)" font-size="21.6" fill="#000">2013</text>
<text transform="translate(232.30,32.00) scale(1,1.045)" font-size="21.6" fill="#000">2015</text>
<text transform="translate(119.50,50.30) scale(1,1.045)" font-size="21.3" fill="#000">BPS</text>
<line x1="188" y1="44.75" x2="209" y2="44.75" stroke="#EEE868" stroke-width="5.4"/>
<line x1="245.5" y1="44.75" x2="266.8" y2="44.75" stroke="#B7E06E" stroke-width="5.4"/>
<text transform="translate(119.50,82.30) scale(1,1.045)" font-size="21.3" fill="#000">TAIL</text>
<line x1="188" y1="76.3" x2="209" y2="76.3" stroke="#F0C89B" stroke-width="5.4"/>
<line x1="245.5" y1="76.3" x2="266.8" y2="76.3" stroke="#DE8A7A" stroke-width="5.4"/>
<text transform="translate(119.50,114.20) scale(1,1.045)" font-size="21.3" fill="#000">RES</text>
<line x1="188" y1="108.0" x2="209" y2="108.0" stroke="#8E4CB2" stroke-width="5.4"/>
<line x1="245.5" y1="108.0" x2="266.8" y2="108.0" stroke="#5D4BA8" stroke-width="5.4"/>
</svg>
</body></html>
